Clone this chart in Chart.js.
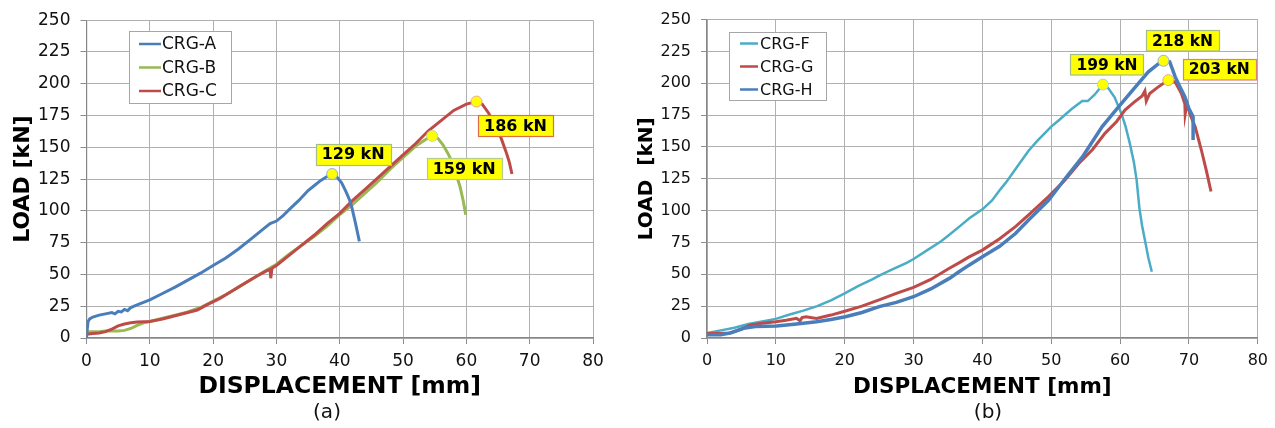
<!DOCTYPE html>
<html>
<head>
<meta charset="utf-8">
<script src="https://cdn.jsdelivr.net/npm/chart.js@4.4.0/dist/chart.umd.min.js"></script>
<style>
  body { margin: 0; background: #fff; width: 1275px; height: 428px; overflow: hidden; }
  .box { position: absolute; top: 0; height: 428px; }
  #boxA { left: 0; width: 620px; }
  #boxB { left: 620px; width: 655px; }
</style>
</head>
<body>
<div class="box" id="boxA"><canvas id="chartA"></canvas></div>
<div class="box" id="boxB"><canvas id="chartB"></canvas></div>
<script>
// ---- data, chart (a) ----
const dispA = [0, 0.1, 0.25, 0.5, 1, 2, 3, 4, 4.5, 5, 5.5, 6, 6.5, 7, 8, 10, 12, 14, 16, 18, 20, 22, 24, 26, 28, 29, 30, 31, 32, 33.5, 35, 36, 37, 38, 38.8, 39.5, 40.3, 41, 41.6, 41.9, 42.5, 43.1];
const loadA = [0, 6, 13, 15, 16.5, 18, 19, 20, 19, 21, 20.5, 22.5, 21.5, 24, 26, 30, 35, 40, 45.5, 51, 57, 63, 70, 78, 86, 90, 92, 96, 101, 108, 116, 120, 124, 127, 129, 127, 122, 115, 108, 103, 90, 76];

const dispB = [0, 1, 2, 3, 4, 5, 6, 7, 8, 9, 10, 12, 14, 16, 18, 20, 22, 24, 26, 28, 30, 32, 34, 36, 38, 40, 42, 44, 46, 48, 50, 52, 53.5, 54.6, 55.5, 56.3, 57, 57.8, 58.5, 59, 59.5, 59.9];
const loadB = [5, 5, 5, 5.5, 5.5, 5.5, 6, 7.5, 10, 12, 13, 15.5, 18, 20.5, 24, 29, 34, 40, 46, 52, 58, 66, 73, 80, 88, 97, 105, 114, 123, 133, 142, 151, 156, 159, 157, 152, 146, 138, 127, 119, 108, 97];

const dispC = [0, 1, 2, 3, 4, 5, 6, 7, 8, 10, 12, 14, 16, 17.5, 19, 21, 23, 25, 27, 28.5, 29, 29.1, 29.3, 30, 32, 34, 36, 38, 40, 42, 44, 46, 48, 50, 52, 54, 56, 58, 60, 61.6, 62.5, 63.5, 64.5, 65.5, 66.3, 66.8, 67.2];
const loadC = [3, 3.5, 4, 5, 7, 9.5, 11, 12, 12.5, 13, 15, 17.5, 20, 22, 26, 31, 37, 43, 49, 53, 54, 47, 55, 57, 65, 73, 81, 90, 98, 108, 117, 126, 135, 144, 153, 163, 171, 179, 184, 186, 184, 177, 168, 157, 146, 138, 129];

const peakDispLeft = [38.8, 54.6, 61.6];
const peakLoadLeft = [129, 159, 186];

// ---- data, chart (b) ----
const dispF = [0, 2, 4, 6, 8, 10, 12, 14, 16, 18, 20, 22, 24, 25, 27, 29, 30, 32, 34, 35.2, 37, 38.1, 40, 41.4, 42.5, 43.4, 45, 46.7, 48, 50, 51.1, 53, 54.5, 55.3, 56.3, 57.5, 58.3, 59.2, 60.2, 60.8, 61.4, 62, 62.4, 62.8, 63.2, 63.6, 64.1, 64.6];
const loadF = [4, 6, 8, 11, 13, 15, 18.5, 21.5, 25, 29.5, 35, 41, 46, 49, 54, 59, 62, 69, 76, 81, 89, 94, 101, 108, 116, 122, 134, 147, 155, 166, 171, 180, 186, 186, 191, 199, 196, 189, 176, 166, 153, 138, 124, 102, 88, 77, 63, 52];

const dispG = [0, 1.5, 3.3, 5, 6.2, 8, 10, 11.5, 13, 13.5, 13.8, 14.4, 15.9, 18, 20, 22.5, 25, 27.5, 30, 32.5, 35.2, 36.6, 38, 40, 42.5, 44.8, 47, 49.6, 52, 54, 56, 57.8, 59.5, 60.7, 62, 63.2, 63.6, 63.8, 64.3, 65.5, 67, 68, 68.9, 69.4, 69.45, 69.7, 70.2, 70.9, 71.8, 72.5, 73.2];
const loadG = [3.5, 3.5, 4, 7, 10, 11.5, 12.8, 14, 15.4, 13.5, 16, 16.7, 15.4, 18, 21, 25, 30, 35, 39.8, 46, 54.7, 59, 63.5, 69, 78, 87.4, 98, 111, 124, 137, 148, 160.7, 170, 179, 185, 190, 194, 186, 192, 197, 202.5, 201, 192, 184, 176, 184, 175, 165.8, 147.6, 132, 115];

const dispH = [0, 2, 3.5, 5.3, 7, 10.1, 13, 15.9, 18, 20.1, 22.5, 25, 27.5, 30, 32.5, 35.2, 36.6, 38, 40, 42.5, 44.8, 46.7, 49.6, 52, 54.5, 57.4, 59.8, 62.2, 64.1, 65.5, 66.3, 67.2, 67.6, 68, 68.7, 69.4, 70, 70.6, 70.6];
const loadH = [2.5, 2.5, 4, 7.6, 9, 9.4, 11, 12.8, 14.5, 16.7, 20, 24.6, 28, 32.4, 38.5, 46.8, 52, 57, 63.8, 72, 82, 92.6, 108, 125, 142, 166, 181.6, 197, 209, 215, 217.7, 216.9, 211, 205, 197, 189.4, 180, 173.7, 155.4];

const peakDispRight = [57.5, 67, 66.3];
const peakLoadRight = [199, 202.5, 217.7];

const xTicks = [0, 10, 20, 30, 40, 50, 60, 70, 80];
const yTicks = [0, 25, 50, 75, 100, 125, 150, 175, 200, 225, 250];

const fontFam = '"DejaVu Sans", Verdana, sans-serif';
const BLUE = '#4A7EBB', GREEN = '#98B954', RED = '#BE4B48', CYAN = '#4BACC6';

function pts(xs, ys) {
    return xs.map((x, i) => ({ x: x, y: ys[i] }));
}

function line(label, xs, ys, color, width, order) {
    return {
        label: label,
        data: pts(xs, ys),
        borderColor: color,
        backgroundColor: color,
        borderWidth: width,
        pointRadius: 0,
        showLine: true,
        tension: 0,
        order: order
    };
}

// draws peak markers + tags, the boxed legend and the (a)/(b) caption
function overlay(cfg) {
    return {
        id: 'overlay',
        afterDatasetsDraw(chart) {
            const ctx = chart.ctx;
            const sx = chart.scales.x, sy = chart.scales.y;
            ctx.save();

            cfg.peakDisp.forEach((d, i) => {
                const px = sx.getPixelForValue(d);
                const py = sy.getPixelForValue(cfg.peakLoad[i]);
                ctx.beginPath();
                ctx.arc(px, py, 5.5, 0, Math.PI * 2);
                ctx.fillStyle = '#ffff00';
                ctx.fill();
                ctx.lineWidth = 1;
                ctx.strokeStyle = cfg.markEdge[i];
                ctx.stroke();

                const text = Math.round(cfg.peakLoad[i]) + ' kN';
                ctx.font = 'bold ' + cfg.tagSize + 'px ' + fontFam;
                const w = Math.round(ctx.measureText(text).width + 12);
                const h = cfg.tagSize + 5;
                const cx = px + cfg.tagOffset[i][0], cy = py + cfg.tagOffset[i][1];
                const l = Math.round(cx - w / 2) + 0.5, t = Math.round(cy - h / 2) + 0.5;
                ctx.fillStyle = '#ffff00';
                ctx.fillRect(l, t, w, h);
                ctx.strokeStyle = cfg.tagEdge[i];
                ctx.lineWidth = 1.2;
                ctx.strokeRect(l, t, w, h);
                ctx.fillStyle = '#000';
                ctx.textAlign = 'center';
                ctx.textBaseline = 'middle';
                ctx.fillText(text, cx, cy + 1);
            });

            // legend
            const lg = cfg.legend;
            ctx.fillStyle = '#fff';
            ctx.fillRect(lg.x, lg.y, lg.w, lg.h);
            ctx.strokeStyle = '#a6a6a6';
            ctx.lineWidth = 1;
            ctx.strokeRect(lg.x + 0.5, lg.y + 0.5, lg.w, lg.h);
            ctx.font = lg.size + 'px ' + fontFam;
            ctx.textAlign = 'left';
            ctx.textBaseline = 'middle';
            chart.data.datasets.forEach((ds, i) => {
                if (!ds.label) return;
                const yy = lg.rows[i];
                ctx.strokeStyle = ds.borderColor;
                ctx.lineWidth = 2.5;
                ctx.beginPath();
                ctx.moveTo(lg.x0, yy);
                ctx.lineTo(lg.x1, yy);
                ctx.stroke();
                ctx.fillStyle = '#111';
                ctx.fillText(ds.label, lg.tx, yy + 1);
            });

            // caption
            ctx.font = cfg.capSize + 'px ' + fontFam;
            ctx.fillStyle = '#111';
            ctx.textAlign = 'center';
            ctx.fillText(cfg.caption, cfg.capX, cfg.capY);
            ctx.restore();
        }
    };
}

function makeChart(id, datasets, cfg) {
    const ctx = document.getElementById(id).getContext('2d');
    return new Chart(ctx, {
        type: 'scatter',
        data: { datasets: datasets },
        options: {
            responsive: true,
            maintainAspectRatio: false,
            animation: false,
            layout: { padding: { left: 0, top: 19.5, right: cfg.padRight, bottom: 0 } },
            plugins: { legend: { display: false }, tooltip: { enabled: false } },
            scales: {
                x: {
                    type: 'linear',
                    min: 0, max: 80,
                    afterBuildTicks: s => { s.ticks = xTicks.map(v => ({ value: v })); },
                    afterFit: s => { s.height = 90; },
                    grid: { color: '#b0b0b0', lineWidth: 1, tickLength: 6, tickColor: '#8c8c8c' },
                    border: { color: '#868686', width: 1.2 },
                    ticks: { color: '#111', padding: 7, font: { family: fontFam, size: cfg.tickSize } },
                    title: {
                        display: true, text: 'DISPLACEMENT [mm]', color: '#000',
                        font: { family: fontFam, size: cfg.xTitleSize, weight: 'bold' },
                        padding: { top: 0, bottom: cfg.xTitlePad }
                    }
                },
                y: {
                    type: 'linear',
                    min: 0, max: 250,
                    afterBuildTicks: s => { s.ticks = yTicks.map(v => ({ value: v })); },
                    afterFit: s => { s.width = cfg.yWidth; },
                    grid: { color: '#b0b0b0', lineWidth: 1, tickLength: 6, tickColor: '#8c8c8c' },
                    border: { color: '#868686', width: 1.2 },
                    ticks: { color: '#111', padding: 10, font: { family: fontFam, size: cfg.tickSize } },
                    title: {
                        display: true, text: cfg.yTitle, color: '#000',
                        font: { family: fontFam, size: cfg.titleSize, weight: 'bold' },
                        padding: { top: cfg.yTitlePad, bottom: 0 }
                    }
                }
            }
        },
        plugins: [overlay(cfg)]
    });
}

makeChart('chartA', [
    line('CRG-A', dispA, loadA, BLUE, 3, 0),
    line('CRG-B', dispB, loadB, GREEN, 3, 2),
    line('CRG-C', dispC, loadC, RED, 3, 1)
], {
    padRight: 27, yWidth: 86.5, tickSize: 17, titleSize: 22, xTitleSize: 23.5, xTitlePad: 27, yTitlePad: 10,
    yTitle: 'LOAD [kN]',
    peakDisp: peakDispLeft, peakLoad: peakLoadLeft,
    markEdge: ['#8fb0d8', '#c3d69b', '#e6a5a3'],
    tagEdge: ['#a7bd86', '#b5cc8a', '#dd6e44'],
    tagOffset: [[21, -20], [32, 33], [39, 24]],
    tagSize: 16,
    legend: { x: 129, y: 31, w: 102, h: 72, rows: [44, 67.5, 91], x0: 139, x1: 161, tx: 162, size: 17 },
    caption: '(a)', capX: 327, capY: 413, capSize: 20
});

makeChart('chartB', [
    line('CRG-F', dispF, loadF, CYAN, 2.5, 2),
    line('CRG-G', dispG, loadG, RED, 3, 1),
    line('CRG-H', dispH, loadH, BLUE, 3.5, 0)
], {
    padRight: 15, yWidth: 87, tickSize: 16, titleSize: 20, xTitleSize: 21.5, xTitlePad: 28, yTitlePad: 15,
    yTitle: 'LOAD  [kN]',
    peakDisp: peakDispRight, peakLoad: peakLoadRight,
    markEdge: ['#a5d5e3', '#e6a5a3', '#8fb0d8'],
    tagEdge: ['#a7bd86', '#dc8080', '#a7bd86'],
    tagOffset: [[4, -20], [51, -11], [19, -20]],
    tagSize: 15.5,
    legend: { x: 109, y: 32, w: 97, h: 68, rows: [43.5, 66.5, 89.5], x0: 120, x1: 138, tx: 140, size: 16 },
    caption: '(b)', capX: 368, capY: 413, capSize: 20
});
</script>
</body>
</html>
